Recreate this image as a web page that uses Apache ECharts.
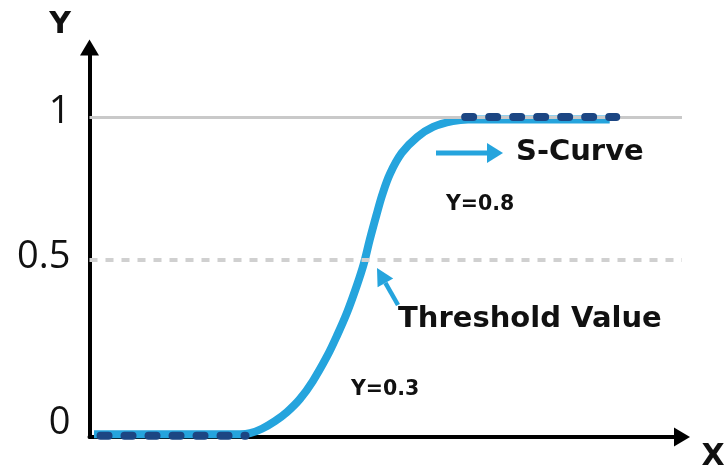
<!DOCTYPE html>
<html><head><meta charset="utf-8">
<script src="https://cdn.jsdelivr.net/npm/echarts@6/dist/echarts.min.js"></script>
<style>html,body{margin:0;padding:0;background:#fff}#c{width:726px;height:468px}</style>
</head><body><div id="c"></div>
<script>
// S-curve
const curveX = [0.76, 25.4, 27.1, 29.1, 31.3, 33.3, 35.5, 37.7, 40.1, 41.8, 43.5, 45.1, 46.3, 47.3, 48.4, 49.4, 50.7, 52.7, 55.3, 58.0, 61.3, 63.9, 67.6, 87.8];
const curveY = [0.003, 0.003, 0.006, 0.020, 0.044, 0.072, 0.113, 0.170, 0.248, 0.314, 0.387, 0.469, 0.539, 0.614, 0.690, 0.755, 0.821, 0.887, 0.937, 0.969, 0.987, 0.992, 0.992, 0.992];
// dashed plateaus
const lowPlateauX = [1.86, 26.33];
const lowPlateauY = [-0.002, -0.002];
const highPlateauX = [63.4, 88.9];
const highPlateauY = [1, 1];
// y ticks
const yTickValues = [0, 0.55, 1];
const yTickLabels = ['0', '0.5', '1'];
// reference lines
const topLineValue = 1;
const thresholdValue = 0.55;
// annotation texts
const axisNameX = 'X';
const axisNameY = 'Y';
const curveLabel = 'S-Curve';
const thresholdLabel = 'Threshold Value';
const highLabel = 'Y=0.8';
const lowLabel = 'Y=0.3';

const zip = (xs, ys) => xs.map((x, i) => [x, ys[i]]);
const BLUE = '#25A4DD';
const NAVY = '#1C4683';
const FONT = '"Open Sans", "Noto Sans", sans-serif';
const BFONT = '"DejaVu Sans", sans-serif';

const chart = echarts.init(document.getElementById('c'));
chart.setOption({
  animation: false,
  grid: { left: 89.5, right: 44, top: 47.5, bottom: 31 },
  xAxis: {
    type: 'value', min: 0, max: 100,
    axisLine: { show: true, onZero: false, lineStyle: { color: '#000', width: 4 },
      symbol: ['none', 'triangle'], symbolSize: [19, 16] },
    axisTick: { show: false }, axisLabel: { show: false }, splitLine: { show: false }
  },
  yAxis: {
    type: 'value', min: -0.006, max: 1.2186,
    axisLine: { show: true, onZero: false, lineStyle: { color: '#000', width: 4 },
      symbol: ['none', 'triangle'], symbolSize: [19, 16] },
    axisTick: { show: false }, splitLine: { show: false },
    axisLabel: {
      customValues: yTickValues,
      margin: 19,
      color: '#111',
      fontFamily: FONT, fontSize: 38, fontWeight: 400,
      formatter: function (v) {
        let best = 0;
        yTickValues.forEach((t, i) => { if (Math.abs(t - v) < Math.abs(yTickValues[best] - v)) best = i; });
        return '{l' + best + '|' + yTickLabels[best] + '}';
      },
      rich: {
        l0: { fontFamily: FONT, fontSize: 38, color: '#111', padding: [0, 0, 24, 0] },
        l1: { fontFamily: FONT, fontSize: 38, color: '#111', padding: [0, 0, 6, 0] },
        l2: { fontFamily: FONT, fontSize: 38, color: '#111', padding: [0, 0, 10, 0] }
      }
    }
  },
  series: [
    {
      type: 'line', data: zip(curveX, curveY), z: 3, symbol: 'none',
      smooth: 0.35,
      lineStyle: { color: BLUE, width: 8 }
    },
    {
      type: 'line', data: zip(lowPlateauX, lowPlateauY), zlevel: 1, z: 4, symbol: 'none',
      lineStyle: { color: NAVY, width: 8, type: [8, 16], cap: 'round' }
    },
    {
      type: 'line', data: zip(highPlateauX, highPlateauY), zlevel: 1, z: 4, symbol: 'none',
      lineStyle: { color: NAVY, width: 8, type: [8, 16], cap: 'round' }
    },
    {
      type: 'line', data: [], z: 1, silent: true,
      markLine: {
        silent: true, symbol: 'none', label: { show: false },
        data: [
          { yAxis: topLineValue, lineStyle: { type: 'solid', color: '#c9c9c9', width: 3 } },
          { yAxis: thresholdValue, lineStyle: { type: [8, 8], color: '#d0d0d0', width: 4 } }
        ]
      }
    }
  ],
  graphic: [
    { type: 'text', x: 60, y: 25, style: { text: axisNameY, fill: '#111', font: 'bold 30px ' + BFONT, textAlign: 'center', textVerticalAlign: 'middle' } },
    { type: 'text', x: 713, y: 457, style: { text: axisNameX, fill: '#111', font: 'bold 30px ' + BFONT, textAlign: 'center', textVerticalAlign: 'middle' } },
    { type: 'line', shape: { x1: 436, y1: 153, x2: 489, y2: 153 }, style: { stroke: BLUE, lineWidth: 5 } },
    { type: 'polygon', shape: { points: [[487, 143], [503, 153], [487, 163]] }, style: { fill: BLUE } },
    { type: 'text', x: 516, y: 152, style: { text: curveLabel, fill: '#111', font: 'bold 29px ' + BFONT, textAlign: 'left', textVerticalAlign: 'middle' } },
    { type: 'text', x: 446, y: 205, style: { text: highLabel, fill: '#111', font: 'bold 20.5px ' + BFONT, textAlign: 'left', textVerticalAlign: 'middle' } },
    { type: 'line', shape: { x1: 398, y1: 305, x2: 385.4, y2: 282.8 }, style: { stroke: BLUE, lineWidth: 4.5 } },
    { type: 'polygon', shape: { points: [[377, 268], [393.2, 278.4], [377.6, 287.2]] }, style: { fill: BLUE } },
    { type: 'text', x: 398, y: 319, style: { text: thresholdLabel, fill: '#111', font: 'bold 29px ' + BFONT, textAlign: 'left', textVerticalAlign: 'middle' } },
    { type: 'text', x: 351, y: 390, style: { text: lowLabel, fill: '#111', font: 'bold 20.5px ' + BFONT, textAlign: 'left', textVerticalAlign: 'middle' } }
  ]
});
</script>
</body></html>
